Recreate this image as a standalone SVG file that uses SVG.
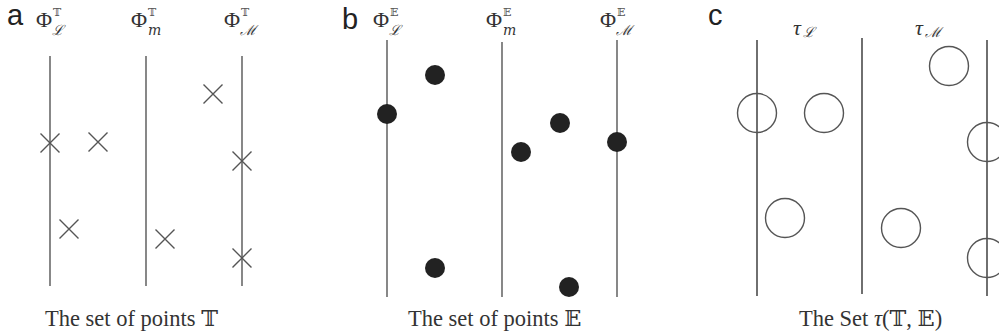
<svg xmlns="http://www.w3.org/2000/svg" width="999" height="336" viewBox="0 0 999 336">
<style>
.axis{stroke:#6a6a6a;stroke-width:1.6}
.axisc{stroke:#333;stroke-width:1.4}
.cross{stroke:#555;stroke-width:1.4;fill:none}
.dot{fill:#222}
.ring{fill:none;stroke:#555;stroke-width:1.4}
.tag{font-family:"Liberation Sans",Arial,sans-serif;font-size:29px;fill:#222}
.phi{font-family:"Liberation Serif","DejaVu Serif",serif;font-size:22px;fill:#333}
.sup{font-family:"DejaVu Serif",serif;font-size:11px;fill:#555}
.sub{font-family:"DejaVu Serif",serif;font-size:14px;font-style:italic;fill:#333}
.cap{font-family:"Liberation Serif","DejaVu Serif",serif;font-size:22.5px;fill:#333}
</style>
<defs>
<g id="x"><path class="cross" d="M-9.5,-9.5L9.5,9.5M-9.5,9.5L9.5,-9.5"/></g>
</defs>
<g id="panel-a">
<text class="tag" x="7" y="25">a</text>
<g id="label-a1"><text class="phi" x="36" y="27">Φ</text><text class="sup" x="53" y="16">𝕋</text><text class="sub" x="52" y="35">ℒ</text></g>
<g id="label-a2"><text class="phi" x="131" y="27">Φ</text><text class="sup" x="148" y="16">𝕋</text><text class="sub" x="148" y="35">m</text></g>
<g id="label-a3"><text class="phi" x="224" y="27">Φ</text><text class="sup" x="241" y="16">𝕋</text><text class="sub" x="240" y="35">ℳ</text></g>
<g id="axes-a">
<line class="axis" x1="50" y1="56" x2="50" y2="286"/>
<line class="axis" x1="146" y1="56" x2="146" y2="286"/>
<line class="axis" x1="242" y1="56" x2="242" y2="286"/>
</g>
<g id="points-a">
<use href="#x" x="50" y="143"/>
<use href="#x" x="98" y="142"/>
<use href="#x" x="213" y="94"/>
<use href="#x" x="242" y="161"/>
<use href="#x" x="69" y="229"/>
<use href="#x" x="165" y="239"/>
<use href="#x" x="242" y="258"/>
</g>
<text class="cap" x="45" y="326">The set of points 𝕋</text>
</g>
<g id="panel-b">
<text class="tag" x="342" y="29">b</text>
<g id="label-b1"><text class="phi" x="373" y="27">Φ</text><text class="sup" x="390" y="16">𝔼</text><text class="sub" x="389" y="35">ℒ</text></g>
<g id="label-b2"><text class="phi" x="486" y="27">Φ</text><text class="sup" x="503" y="16">𝔼</text><text class="sub" x="503" y="35">m</text></g>
<g id="label-b3"><text class="phi" x="600" y="27">Φ</text><text class="sup" x="617" y="16">𝔼</text><text class="sub" x="616" y="35">ℳ</text></g>
<g id="axes-b">
<line class="axis" x1="387" y1="40" x2="387" y2="297"/>
<line class="axis" x1="502" y1="42" x2="502" y2="297"/>
<line class="axis" x1="617" y1="40" x2="617" y2="297"/>
</g>
<g id="points-b">
<circle class="dot" cx="435" cy="75" r="10"/>
<circle class="dot" cx="387" cy="114" r="10"/>
<circle class="dot" cx="560" cy="123" r="10"/>
<circle class="dot" cx="521" cy="152" r="10"/>
<circle class="dot" cx="617" cy="142" r="10"/>
<circle class="dot" cx="435" cy="268" r="10"/>
<circle class="dot" cx="569" cy="287" r="10"/>
</g>
<text class="cap" x="408" y="326">The set of points 𝔼</text>
</g>
<g id="panel-c">
<text class="tag" x="708" y="25">c</text>
<g id="label-c1"><text class="phi" x="793" y="35" font-style="italic">τ</text><text class="sub" x="803" y="37">ℒ</text></g>
<g id="label-c2"><text class="phi" x="915" y="35" font-style="italic">τ</text><text class="sub" x="925" y="37">ℳ</text></g>
<g id="axes-c">
<line class="axisc" x1="757" y1="40" x2="757" y2="296"/>
<line class="axisc" x1="862" y1="38" x2="862" y2="294"/>
<line class="axisc" x1="987" y1="40" x2="987" y2="296"/>
</g>
<g id="points-c">
<circle class="ring" cx="949" cy="66" r="19.5"/>
<circle class="ring" cx="757" cy="113" r="19.5"/>
<circle class="ring" cx="824" cy="113" r="19.5"/>
<circle class="ring" cx="987" cy="142" r="19.5"/>
<circle class="ring" cx="785" cy="218" r="19.5"/>
<circle class="ring" cx="901" cy="228" r="19.5"/>
<circle class="ring" cx="987" cy="258" r="19.5"/>
</g>
<text class="cap" x="799" y="326">The Set <tspan font-style="italic">τ</tspan>(𝕋, 𝔼)</text>
</g>
</svg>
